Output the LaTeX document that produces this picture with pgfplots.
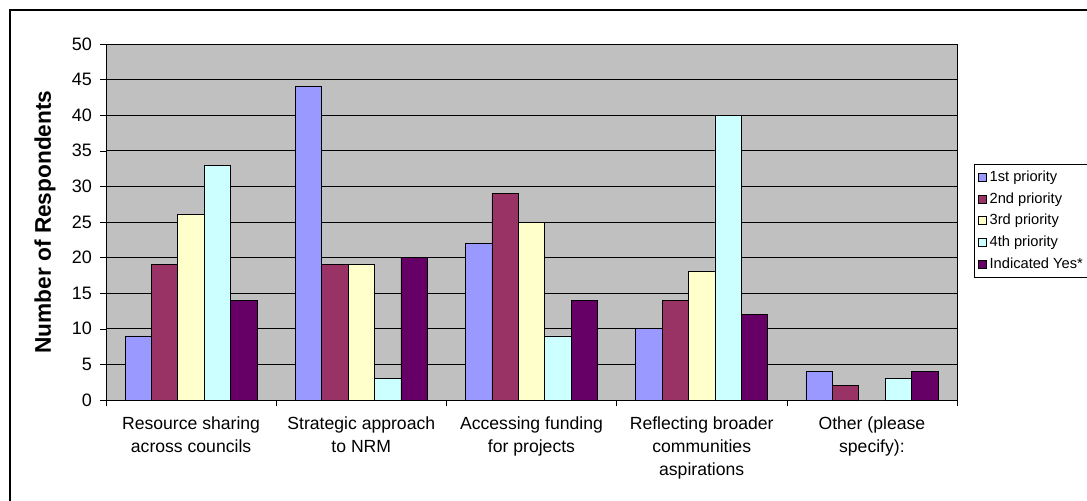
\documentclass[border=0pt]{standalone}
\usepackage{pgfplots}
\pgfplotsset{compat=1.18}
\usepackage{fontspec}
\setmainfont{Liberation Sans}

\definecolor{first}{HTML}{9999FF}
\definecolor{second}{HTML}{993366}
\definecolor{third}{HTML}{FFFFCC}
\definecolor{fourth}{HTML}{CCFFFF}
\definecolor{yes}{HTML}{660066}
\definecolor{plotbg}{HTML}{C0C0C0}

\begin{document}
\begin{tikzpicture}
\path[use as bounding box] (-79.5pt,-75pt) rectangle (735.75pt,300pt);
\draw[black, line width=0.9pt] (-72pt,-80pt) -- (-72pt,292.5pt) -- (740pt,292.5pt);

\begin{axis}[
    scale only axis,
    width=638.25pt,
    height=267pt,
    axis background/.style={fill=plotbg},
    axis line style={black},
    ybar=0pt,
    bar width=19.8pt,
    xmin=-0.5, xmax=4.5,
    ymin=0, ymax=50,
    xtick={0,1,2,3,4},
    xticklabels={
        {Resource sharing\\across councils},
        {Strategic approach\\to NRM},
        {Accessing funding\\for projects},
        {Reflecting broader\\communities\\aspirations},
        {Other (please\\specify):}},
    minor xtick={-0.5,0.5,1.5,2.5,3.5,4.5},
    ytick={0,5,...,50},
    tick pos=left,
    tick align=outside,
    major tick length=4.5pt,
    minor tick length=4.5pt,
    x tick style={draw=none},
    minor x tick style={draw=black},
    y tick style={black},
    ymajorgrids,
    grid style={black, line width=0.5pt},
    /pgf/number format/assume math mode=true,
    yticklabel style={font=\fontsize{13.5}{16}\selectfont, xshift=-2.5pt},
    xticklabel style={font=\fontsize{13.2}{17.25}\selectfont, align=center, yshift=-4.5pt},
    ylabel={Number of Respondents},
    ylabel style={font=\fontsize{17}{20}\selectfont\bfseries, at={(axis description cs:-0.0717,0.5)}, anchor=center},
    legend style={
        at={(1.02,0.663)}, anchor=north west,
        draw=black, fill=white,
        font=\fontsize{11}{12.5}\selectfont,
        row sep=2.8pt,
        inner xsep=3pt, inner ysep=3pt,
        cells={anchor=west},
    },
    legend image code/.code={
        \draw[#1, draw=black, line width=0.5pt] (0pt,-3pt) rectangle (6pt,3pt);
    },
    every axis plot/.append style={draw=black, line width=0.6pt},
]
\addplot[fill=first] coordinates {(0,9) (1,44) (2,22) (3,10) (4,4)};
\addlegendentry{1st priority}
\addplot[fill=second] coordinates {(0,19) (1,19) (2,29) (3,14) (4,2)};
\addlegendentry{2nd priority}
\addplot[fill=third] coordinates {(0,26) (1,19) (2,25) (3,18) (4,0)};
\addlegendentry{3rd priority}
\addplot[fill=fourth] coordinates {(0,33) (1,3) (2,9) (3,40) (4,3)};
\addlegendentry{4th priority}
\addplot[fill=yes] coordinates {(0,14) (1,20) (2,14) (3,12) (4,4)};
\addlegendentry{Indicated Yes*}
\end{axis}
\end{tikzpicture}
\end{document}
